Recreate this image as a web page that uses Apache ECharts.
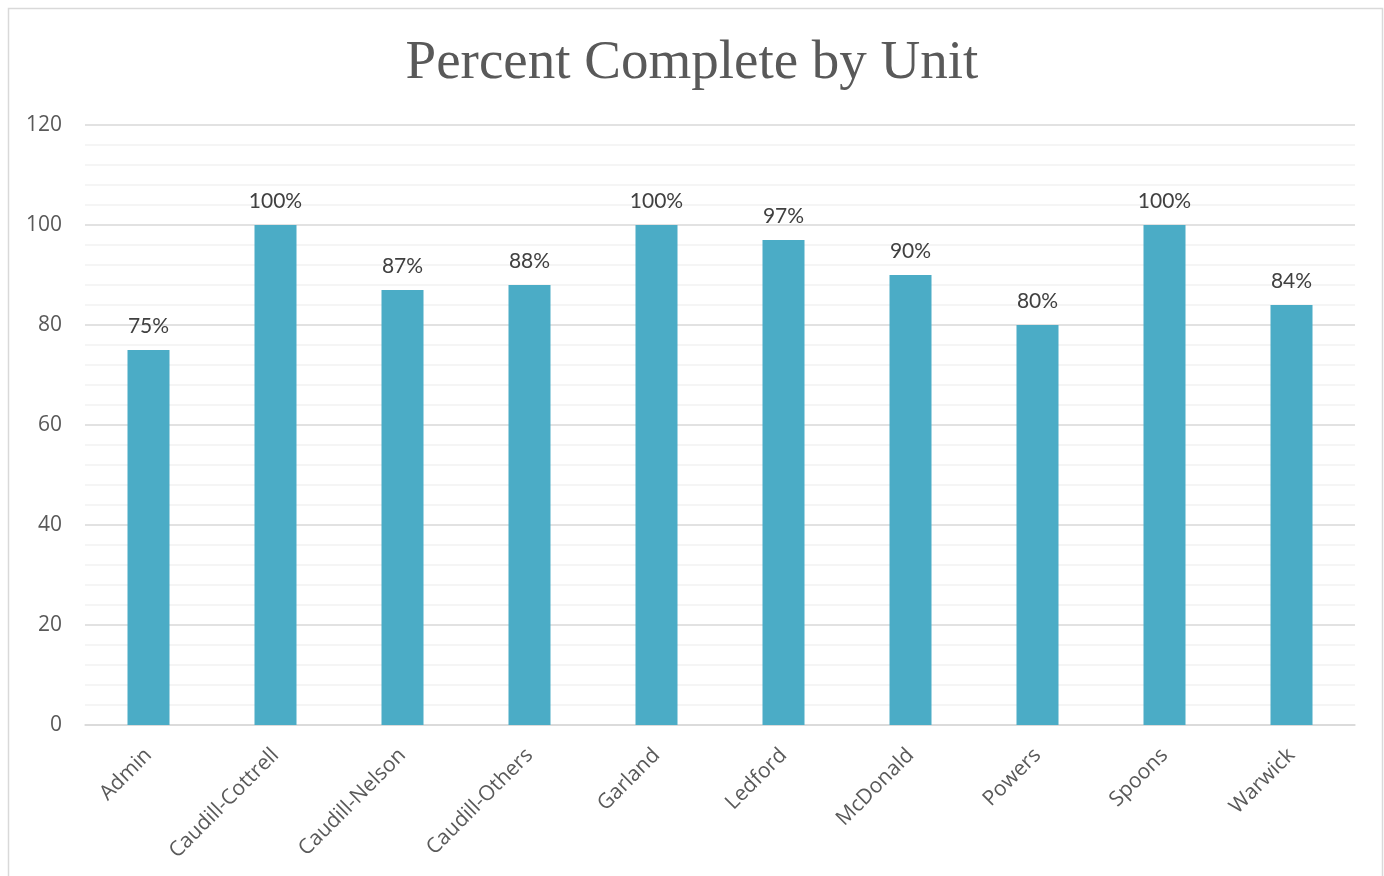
<!DOCTYPE html>
<html><head><meta charset="utf-8">
<script src="https://cdn.jsdelivr.net/npm/echarts@6/dist/echarts.min.js"></script>
<style>html,body{margin:0;padding:0;background:#fff}#c{width:1384px;height:876px}</style>
</head><body><div id="c"></div>
<script>
const categories = ['Admin','Caudill-Cottrell','Caudill-Nelson','Caudill-Others','Garland','Ledford','McDonald','Powers','Spoons','Warwick'];
const values = [75,100,87,88,100,97,90,80,100,84];
const titleText = 'Percent Complete by Unit';

const chart = echarts.init(document.getElementById('c'));
chart.setOption({
  animation: false,
  backgroundColor: '#fff',
  graphic: [{type:'rect', shape:{x:8.5,y:8.5,width:1374,height:900}, style:{fill:'none', stroke:'#d9d9d9', lineWidth:1.5}}],
  title: {text: titleText, left: 'center', top: 31, textStyle: {fontFamily: 'Liberation Serif', fontSize: 55, fontWeight: 'normal', color: '#595959'}},
  grid: {left: 85, right: 29, top: 125, bottom: 151, containLabel: false},
  xAxis: {type:'category', data: categories,
    axisLine:{lineStyle:{color:'#d9d9d9', width:1.5}}, axisTick:{show:false},
    axisLabel:{rotate:45, color:'#595959', fontFamily:'Open Sans', fontSize:21, margin:27, interval:0}},
  yAxis: {type:'value', min:0, max:120, interval:20,
    axisLine:{show:false}, axisTick:{show:false},
    axisLabel:{color:'#595959', fontFamily:'Open Sans', fontSize:21, margin:23},
    splitLine:{lineStyle:{color:'#d9d9d9', width:1.5}},
    minorTick:{show:false, splitNumber:5},
    minorSplitLine:{show:true, lineStyle:{color:'#f2f2f2', width:1.5}}},
  series: [{type:'bar', data: values, barWidth: 42, itemStyle:{color:'#4BACC6'},
    label:{show:true, position:'top', distance:13, formatter:'{c}%', color:'#404040', fontFamily:'Lato', fontSize:21}}]
});
</script></body></html>
